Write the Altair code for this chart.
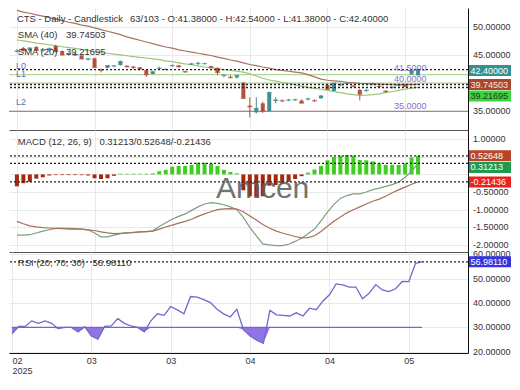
import altair as alt
import pandas as pd

# ---------------- data ----------------
opens = [45.6, 46.2, 45.8, 46.4, 45.8, 45.9, 46.6, 45.7, 45.1, 45.2,
         44.9, 44.2, 44.4, 42.4, 42.7, 43.0, 43.2, 43.1, 42.9, 42.8,
         42.3, 41.6, 42.55, 42.45, 43.05, 43.15, 42.05, 43.35, 43.45, 43.45,
         43.0, 42.7, 41.3, 41.1, 41.0, 40.1, 36.0, 34.8, 36.4, 35.0,
         36.8, 36.9, 36.95, 37.0, 36.9, 37.15, 36.9, 37.3, 39.7, 38.6,
         39.65, 39.9, 39.5, 38.8, 38.65, 39.8, 39.45, 38.65, 39.2, 39.55,
         39.7, 41.55, 41.38]
highs = [46.0, 46.4, 46.4, 46.6, 46.1, 46.3, 46.8, 45.8, 45.4, 45.4,
         45.0, 44.4, 44.5, 42.6, 43.2, 43.2, 44.0, 43.1, 43.05, 42.85,
         42.3, 42.2, 42.9, 42.6, 43.3, 43.2, 42.2, 43.6, 43.8, 43.6,
         43.05, 42.8, 41.55, 41.4, 41.5, 40.1, 37.5, 37.5, 36.7, 38.5,
         37.5, 37.1, 37.2, 37.2, 37.1, 37.4, 37.1, 37.9, 39.8, 40.0,
         40.0, 40.2, 39.7, 38.9, 38.9, 40.1, 39.6, 38.7, 39.4, 39.8,
         39.75, 42.2, 42.54]
lows = [45.4, 45.6, 45.7, 45.6, 45.5, 45.6, 45.5, 44.9, 44.9, 44.8,
        44.2, 44.0, 42.7, 41.9, 42.6, 42.8, 43.1, 42.8, 42.5, 42.3,
        41.1, 41.55, 42.3, 42.3, 42.9, 42.8, 41.8, 43.2, 43.2, 43.3,
        42.6, 41.4, 41.0, 40.8, 40.8, 37.2, 33.9, 34.6, 34.7, 35.0,
        36.4, 36.6, 36.8, 36.8, 36.4, 36.9, 36.7, 37.2, 38.9, 38.5,
        39.4, 39.7, 39.3, 36.9, 38.4, 39.6, 39.3, 38.3, 39.0, 39.4,
        39.35, 41.5, 41.38]
closes = [45.7, 45.8, 46.2, 45.8, 45.9, 46.1, 45.6, 45.0, 45.2, 45.0,
          44.3, 44.3, 42.8, 42.3, 43.1, 43.05, 43.8, 42.9, 42.8, 42.5,
          41.5, 42.0, 42.65, 42.4, 43.1, 42.9, 42.0, 43.4, 43.5, 43.45,
          42.8, 41.9, 41.4, 41.0, 41.3, 37.3, 35.8, 35.5, 35.0, 38.3,
          37.0, 36.85, 37.0, 37.05, 36.45, 37.2, 36.85, 37.7, 38.9, 40.0,
          39.7, 39.95, 39.45, 38.05, 38.7, 39.85, 39.4, 38.5, 39.25, 39.6,
          39.4, 42.2, 42.40]
sma40 = [52.9, 52.6, 52.4, 52.1, 51.9, 51.6, 51.4, 51.1, 50.8, 50.6,
         50.3, 50.1, 49.8, 49.5, 49.2, 48.9, 48.6, 48.2, 47.9, 47.6,
         47.3, 47.0, 46.7, 46.4, 46.2, 45.9, 45.7, 45.5, 45.3, 45.1,
         44.9, 44.6, 44.4, 44.1, 43.9, 43.6, 43.3, 43.1, 42.85, 42.65,
         42.4, 42.25, 42.1, 41.95, 41.8, 41.5, 41.1, 40.7, 40.5, 40.4,
         40.3, 40.15, 40.05, 39.95, 39.9, 39.85, 39.8, 39.75, 39.7, 39.7,
         39.72, 39.73, 39.745]
sma20 = [47.65, 47.5, 47.3, 47.1, 46.95, 46.8, 46.6, 46.45, 46.3, 46.15,
         46.0, 45.8, 45.6, 45.45, 45.3, 45.15, 45.0, 44.85, 44.7, 44.55,
         44.45, 44.3, 44.15, 43.95, 43.8, 43.6, 43.4, 43.25, 43.05, 42.85,
         42.7, 42.55, 42.4, 42.25, 42.1, 41.95, 41.65, 41.25, 40.85, 40.55,
         40.35, 40.15, 39.95, 39.7, 39.45, 39.25, 39.05, 38.9, 38.7, 38.5,
         38.3, 38.1, 37.95, 37.8, 37.85, 37.95, 38.1, 38.3, 38.5, 38.7,
         38.9, 39.1, 39.217]
macd = [-1.72, -1.72, -1.71, -1.66, -1.61, -1.57, -1.53, -1.52, -1.53, -1.54,
        -1.55, -1.57, -1.66, -1.77, -1.77, -1.72, -1.68, -1.66, -1.64, -1.63,
        -1.62, -1.60, -1.48, -1.37, -1.27, -1.19, -1.12, -1.02, -0.92, -0.84,
        -0.80, -0.82, -0.86, -0.92, -1.00, -1.22, -1.50, -1.74, -1.97, -2.00,
        -2.02, -2.02, -1.98, -1.90, -1.81, -1.68, -1.55, -1.32, -1.07, -0.85,
        -0.68, -0.60, -0.55, -0.55, -0.50, -0.43, -0.39, -0.34, -0.29, -0.22,
        -0.08, 0.09, 0.31213]
signal = [-1.33, -1.40, -1.46, -1.49, -1.51, -1.52, -1.53, -1.54, -1.55, -1.55,
          -1.55, -1.57, -1.59, -1.63, -1.66, -1.68, -1.67, -1.66, -1.65, -1.63,
          -1.62, -1.61, -1.55, -1.49, -1.44, -1.38, -1.33, -1.27, -1.19, -1.12,
          -1.06, -1.00, -0.98, -0.97, -0.98, -1.06, -1.18, -1.29, -1.42, -1.52,
          -1.60, -1.66, -1.71, -1.76, -1.80, -1.79, -1.74, -1.62, -1.47, -1.33,
          -1.21, -1.09, -1.00, -0.92, -0.84, -0.76, -0.70, -0.62, -0.52, -0.44,
          -0.36, -0.28, -0.21436]
hist = [-0.34, -0.25, -0.21, -0.12, -0.08, -0.03, -0.02, -0.02, -0.02, -0.02,
        -0.02, -0.03, -0.11, -0.13, -0.11, -0.04, 0.02, 0.02, 0.02, 0.02,
        0.02, 0.03, 0.09, 0.13, 0.22, 0.24, 0.24, 0.27, 0.33, 0.33,
        0.31, 0.24, 0.13, 0.07, 0.03, -0.45, -0.62, -0.66, -0.62, -0.32,
        -0.30, -0.26, -0.21, -0.13, -0.05, 0.05, 0.14, 0.24, 0.40, 0.50,
        0.53, 0.55, 0.53, 0.41, 0.40, 0.37, 0.31, 0.27, 0.27, 0.27,
        0.31, 0.48, 0.52648]
rsi = [27.4, 30.4, 30.4, 32.7, 31.7, 32.7, 31.7, 29.5, 30.0, 30.0,
       28.2, 30.3, 26.5, 25.2, 30.4, 30.6, 33.6, 31.7, 30.6, 30.0,
       28.2, 32.7, 35.6, 35.0, 38.6, 37.2, 35.6, 42.7, 42.5, 41.4,
       40.2, 37.5, 35.6, 34.3, 37.5, 29.1, 26.5, 24.8, 23.5, 37.0,
       35.2, 35.0, 34.7, 36.0, 34.7, 37.9, 37.3, 40.8, 43.4, 47.9,
       47.5, 46.6, 46.6, 41.8, 44.0, 47.6, 45.4, 44.7, 45.9, 48.9,
       48.8, 56.3, 56.98]

levels = [41.5, 40.0, 35.0]
level_names = ["L0", "L1", "L2"]
level_texts = ["41.5000", "40.0000", "35.0000"]

price_last = [42.40, 39.74503, 39.21695]
price_last_txt = ["42.40000", "39.74503", "39.21695"]
macd_last = [0.52648, 0.31213, -0.21436]
macd_last_txt = ["0.52648", "0.31213", "-0.21436"]
rsi_last = [56.98110]
rsi_last_txt = ["56.98110"]

x_ticks = [0, 12, 24, 36, 48, 60]
x_labels = ["02", "03", "03", "04", "04", "05"]
year_label = "2025"
price_ticks = [35.0, 40.0, 45.0, 50.0]
price_hidden = [40.0]            # tick labels covered by the value boxes
macd_ticks = [1.0, 0.5, 0.0, -0.5, -1.0, -1.5, -2.0]
macd_hidden = [0.5, 0.0]
rsi_ticks = [20.0, 30.0, 40.0, 50.0, 60.0]
rsi_hidden = []

title_main = "CTS - Daily - Candlestick"
title_ohlc = "63/103 - O:41.38000 - H:42.54000 - L:41.38000 - C:42.40000"
sma40_name, sma40_val = "SMA (40)", "39.74503"
sma20_name, sma20_val = "SMA (20)", "39.21695"
macd_name, macd_val = "MACD (12, 26, 9)", "0.31213/0.52648/-0.21436"
rsi_name, rsi_val = "RSI (20; 70; 30)", "56.98110"
watermark = "Amcen"

# ---------------- styling ----------------
FONT = "Liberation Sans"
TXT = "#333333"
GRID = "#e9e9e9"
W = 459
H_PRICE, H_MACD, H_RSI = 122, 122, 101
UP, DOWN = "#3f8f93", "#b5503c"

idx = list(range(len(closes)))
xs = alt.Scale(domain=[-0.45, 68.95], nice=False, zero=False)
ps = alt.Scale(domain=[31.67, 53.33], nice=False, zero=False)
ms = alt.Scale(domain=[-2.2, 1.259], nice=False, zero=False)
rs = alt.Scale(domain=[19.5, 61.0], nice=False, zero=False)

parts = []
for k, (v, lab) in enumerate(zip(x_ticks, x_labels)):
    if k == 0:
        parts.append(f"datum.value == {v} ? ['{lab}', '{year_label}']")
    else:
        parts.append(f"datum.value == {v} ? '{lab}'")
label_expr = " : ".join(parts) + " : ''"

xa_top = alt.Axis(values=x_ticks, labels=False, ticks=False, grid=True,
                  gridColor=GRID, domain=True, domainColor="#555555", title=None)
xa_bottom = alt.Axis(values=x_ticks, labelExpr=label_expr, ticks=False, grid=True,
                     gridColor=GRID, domain=True, domainColor="#111111", labelFlush=10,
                     labelFontSize=9, labelColor=TXT, labelPadding=3, labelLineHeight=10,
                     labelFont=FONT, labelOverlap=False, title=None)


def y_axis(vals):
    # grid lines + right border line; the tick labels are drawn by tick_labels()
    return alt.Axis(orient="right", values=vals, labels=False, ticks=False, grid=True,
                    gridColor=GRID, domain=True, domainColor="#111111", title=None)


pa, ma, ra = y_axis(price_ticks), y_axis(macd_ticks), y_axis(rsi_ticks)


def tick_labels(vals, hidden, scale, axis):
    shown = [v for v in vals if v not in hidden]
    d = pd.DataFrame({"v": shown, "t": [f"{v:.5f}" for v in shown]})
    return alt.Chart(d).mark_text(align="left", baseline="middle", font=FONT, fontSize=9,
                                  color=TXT).encode(
        x=alt.value(W + 5), y=alt.Y("v:Q", scale=scale, axis=axis), text="t:N")


def note(text, x, y, size=9.5, color=TXT, align="left", baseline="middle", **kw):
    return alt.Chart(pd.DataFrame({"t": [text]})).mark_text(
        align=align, baseline=baseline, font=FONT, fontSize=size, color=color, **kw
    ).encode(x=alt.value(x), y=alt.value(y), text="t:N")


def vbox(value, text, bg, fg, scale, axis, dy=0.0):
    d = pd.DataFrame({"v": [value], "t": [text]})
    r = alt.Chart(d).mark_rect(color=bg, yOffset=dy - 5.5, y2Offset=dy + 5.5).encode(
        x=alt.value(460), x2=alt.value(502),
        y=alt.Y("v:Q", scale=scale, axis=axis), y2="v:Q")
    t = alt.Chart(d).mark_text(align="left", baseline="middle", dy=dy, font=FONT,
                               fontSize=9, color=fg).encode(
        x=alt.value(461.5), y=alt.Y("v:Q", scale=scale, axis=axis), text="t:N")
    return r + t


def last_rules(vals, scale, axis):
    return alt.Chart(pd.DataFrame({"v": vals})).mark_rule(
        color="#222222", strokeDash=[2, 2], strokeWidth=1.3
    ).encode(y=alt.Y("v:Q", scale=scale, axis=axis))


def level_label(k, dy):
    d = pd.DataFrame({"level": [levels[k]], "txt": [level_texts[k]]})
    return alt.Chart(d).mark_text(align="left", baseline="middle", dy=dy, font=FONT,
                                  fontSize=9, color="#7b75cc").encode(
        x=alt.value(385), y=alt.Y("level:Q", scale=ps, axis=pa), text="txt:N")


# ---------------- price panel ----------------
cdf = pd.DataFrame({"i": idx, "open": opens, "high": highs, "low": lows, "close": closes,
                    "sma40": sma40, "sma20": sma20})
cbase = alt.Chart(cdf)
xp = alt.X("i:Q", scale=xs, axis=xa_top)
ccol = alt.condition("datum.close >= datum.open", alt.value(UP), alt.value(DOWN))

lev = pd.DataFrame({"level": levels, "name": level_names, "txt": level_texts})
lev_rules = alt.Chart(lev).mark_rule(strokeWidth=1.2).encode(
    y=alt.Y("level:Q", scale=ps, axis=pa),
    color=alt.Color("name:N", scale=alt.Scale(domain=level_names,
                                              range=["#b3d69a", "#b3d69a", "#8e6b60"]), legend=None))
lev_left = alt.Chart(lev).mark_text(align="left", baseline="middle", dy=-9, font=FONT,
                                    fontSize=9, color="#6a6db8").encode(
    x=alt.value(6.9), y=alt.Y("level:Q", scale=ps, axis=pa), text="name:N")

sma40_line = cbase.mark_line(color="#a8735f", strokeWidth=1.2).encode(
    x=xp, y=alt.Y("sma40:Q", scale=ps, axis=pa))
sma20_line = cbase.mark_line(color="#9cc67e", strokeWidth=1.2).encode(
    x=xp, y=alt.Y("sma20:Q", scale=ps, axis=pa))
wicks = cbase.mark_rule(strokeWidth=1).encode(
    x=xp, y=alt.Y("low:Q", scale=ps, axis=pa), y2="high:Q", color=ccol)
bodies = cbase.mark_bar(size=4).encode(
    x=xp, y=alt.Y("open:Q", scale=ps, axis=pa), y2="close:Q", color=ccol)
doji = cbase.mark_tick(orient="horizontal", size=5, thickness=1.2).encode(
    x=xp, y=alt.Y("close:Q", scale=ps, axis=pa), color=ccol)

price = alt.layer(
    lev_rules, sma40_line, sma20_line, wicks, bodies, doji,
    last_rules(price_last, ps, pa), lev_left,
    level_label(0, -6.5), level_label(1, -4), level_label(2, -5),
    note(title_main, 7.9, 11.3), note(title_ohlc, 121, 11.3),
    note(sma40_name, 8.8, 27.2), note(sma40_val, 57, 27.2),
    note(sma20_name, 8.8, 44.1), note(sma20_val, 57, 44.1),
    tick_labels(price_ticks, price_hidden, ps, pa),
    vbox(price_last[0], price_last_txt[0], "#35908f", "#ffffff", ps, pa, 1),
    vbox(price_last[1], price_last_txt[1], "#a5482f", "#ffe3dc", ps, pa, 0),
    vbox(price_last[2], price_last_txt[2], "#3ed43e", "#1d3b1d", ps, pa, 8.5),
).properties(width=W, height=H_PRICE)

# ---------------- MACD panel ----------------
mdf = pd.DataFrame({"i": idx, "macd": macd, "signal": signal, "hist": hist})
mbase = alt.Chart(mdf)
hist_bars = mbase.mark_bar(size=4).encode(
    x=xp, y=alt.Y("hist:Q", scale=ms, axis=ma), y2=alt.datum(0),
    color=alt.condition("datum.hist >= 0", alt.value("#3ccf1e"), alt.value("#a3290f")))
macd_line = mbase.mark_line(color="#7d9f7d", strokeWidth=1.2).encode(
    x=xp, y=alt.Y("macd:Q", scale=ms, axis=ma))
sig_line = mbase.mark_line(color="#a77058", strokeWidth=1.2).encode(
    x=xp, y=alt.Y("signal:Q", scale=ms, axis=ma))

macd_panel = alt.layer(
    hist_bars, macd_line, sig_line, last_rules(macd_last, ms, ma),
    note(watermark, 253.6, 68, size=30, color="#5a5a5a", align="center",
         baseline="alphabetic", opacity=0.85),
    note(macd_name, 8.8, 12.1), note(macd_val, 90.4, 12.1),
    tick_labels(macd_ticks, macd_hidden, ms, ma),
    vbox(macd_last[0], macd_last_txt[0], "#b8452a", "#ffffff", ms, ma, 0),
    vbox(macd_last[1], macd_last_txt[1], "#1f9a4f", "#ffffff", ms, ma, 4),
    vbox(macd_last[2], macd_last_txt[2], "#e8231f", "#ffffff", ms, ma, 0),
).properties(width=W, height=H_MACD)

# ---------------- RSI panel ----------------
rdf = pd.DataFrame({"i": idx, "rsi": rsi})
rbase = alt.Chart(rdf)
xb = alt.X("i:Q", scale=xs, axis=xa_bottom)
rsi_fill = rbase.transform_calculate(lowpart="min(datum.rsi, 30)").mark_area(
    color="#8d6de3", opacity=0.95).encode(
    x=xb, y=alt.Y("lowpart:Q", scale=rs, axis=ra), y2=alt.datum(30))
line30 = rbase.mark_rule(color="#7367c9", strokeWidth=1.2).encode(
    x=alt.X("min(i):Q", scale=xs, axis=xa_bottom), x2="max(i):Q",
    y=alt.Y(datum=30, scale=rs, axis=ra))
rsi_line = rbase.mark_line(color="#7367c9", strokeWidth=1.3).encode(
    x=xb, y=alt.Y("rsi:Q", scale=rs, axis=ra))

rsi_panel = alt.layer(
    rsi_fill, line30, rsi_line, last_rules(rsi_last, rs, ra),
    note(rsi_name, 8.8, 11.3), note(rsi_val, 83.5, 11.3),
    tick_labels(rsi_ticks, rsi_hidden, rs, ra),
    vbox(rsi_last[0], rsi_last_txt[0], "#3434e0", "#ffffff", rs, ra, 0),
).properties(width=W, height=H_RSI)

chart = alt.vconcat(price, macd_panel, rsi_panel, spacing=0, bounds="flush").properties(
    padding={"left": 0, "top": 0, "right": 0, "bottom": 0}
).configure_view(stroke=None).configure_axis(labelFont=FONT)

chart.save("out.html", embed_options={"renderer": "svg", "actions": False})
